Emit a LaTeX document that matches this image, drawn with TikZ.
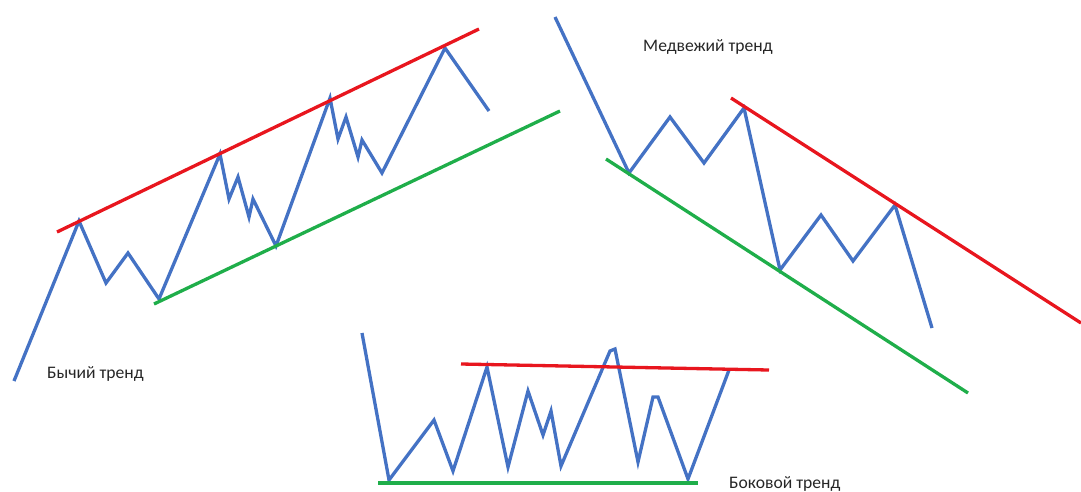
\documentclass[tikz,border=0pt]{standalone}
\usepackage{fontspec}
\setmainfont{Carlito}
\usetikzlibrary{positioning}
\definecolor{trendblue}{HTML}{4472C4}
\definecolor{trendred}{HTML}{E8161E}
\definecolor{trendgreen}{HTML}{1FAE4A}
\definecolor{labelgray}{HTML}{262626}
\tikzset{pricepath/.style={draw=trendblue, line width=3.3pt, line join=miter},
  resline/.style={draw=trendred, line width=3.3pt},
  supline/.style={draw=trendgreen, line width=3.3pt},
  trendlabel/.style={font=\fontsize{17.6}{20}\selectfont, anchor=west,
  inner sep=0pt, text=labelgray}}

\begin{document}
\begin{tikzpicture}[x=1pt, y=-1pt]
    \useasboundingbox (0,0) rectangle (1081,491);
    % bull trend
    \draw[pricepath] (14,381) -- (79,221) -- (106,283) -- (128,253) -- (159,299)
      -- (220,154) -- (229,199) -- (238,177) -- (249,217) -- (253,199) -- (276,246)
      -- (330,98) -- (338,139) -- (346,117) -- (358,157) -- (362,140) -- (382,173)
      -- (445,48) -- (489,111);
    \draw[resline] (57,232) -- (479,29);
    \draw[supline] (154,304) -- (560,111);
    \node[trendlabel] (bull) at (47,374) {Бычий тренд};
    % bear trend
    \draw[pricepath] (555,17) -- (629,173) -- (670,117) -- (704,163) -- (744,108)
      -- (780,270) -- (821,215) -- (853,261) -- (895,205) -- (932,328);
    \draw[resline] (731,98) -- (1081,323);
    \draw[supline] (606,159) -- (968,393);
    \node[trendlabel] (bear) at (643,47) {Медвежий тренд};
    % sideways trend
    \draw[pricepath] (362,333) -- (389,480) -- (434,420) -- (453,471) -- (487,367)
      -- (508,467) -- (528,391) -- (543,435) -- (551,411) -- (561,466)
      -- (610,351) -- (615,349) -- (638,462) -- (653,397) -- (658,397)
      -- (688,479) -- (729,370);
    \draw[resline] (461,364) -- (769,370);
    \draw[supline] (378,483) -- (698,483);
    \node[trendlabel] (flat) at (729,484) {Боковой тренд};
\end{tikzpicture}
\end{document}
